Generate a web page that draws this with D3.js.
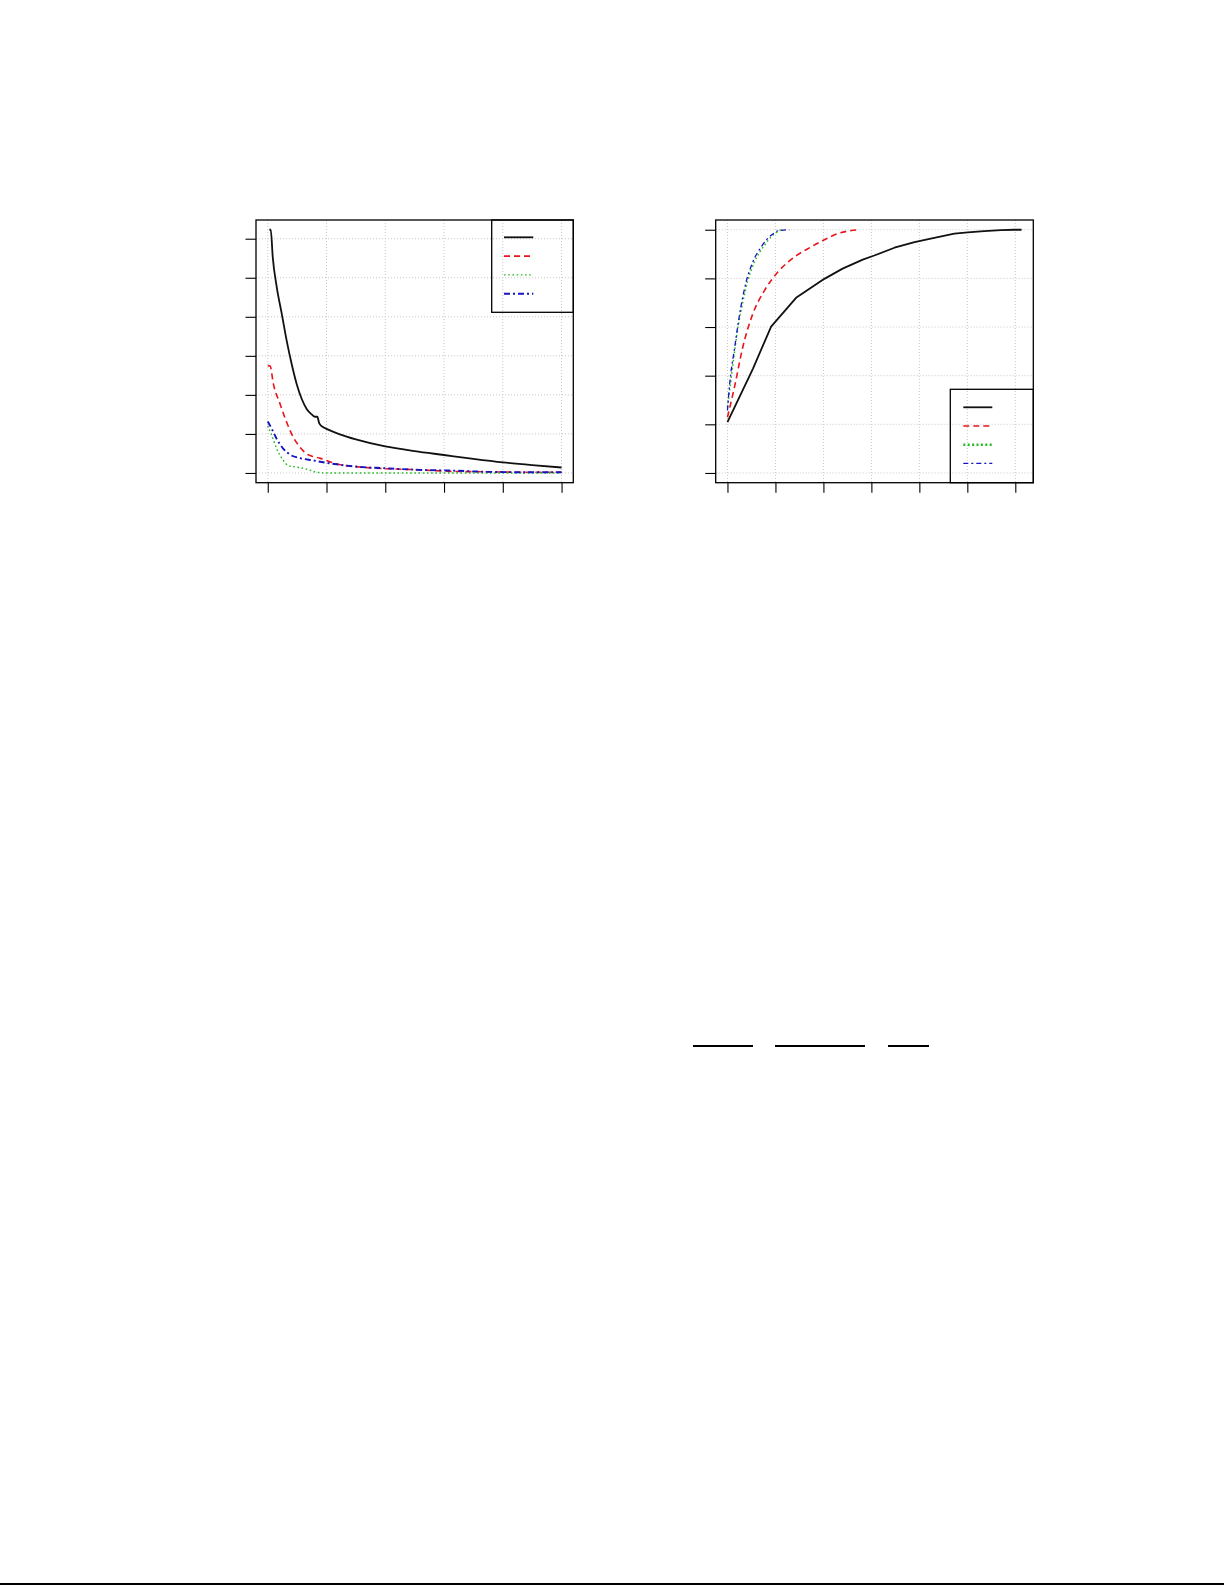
<!DOCTYPE html>
<html lang="en">
<head>
<meta charset="UTF-8">
<title>Two panels</title>
<script src="https://d3js.org/d3.v7.min.js"></script>
<style>
  body { margin: 0; background: #fff; }
  svg { display: block; }
</style>
</head>
<body>
<div id="page"></div>
<script>
// ---- left panel data ----
const leftXTicks = [0, 100, 200, 300, 400, 500];
const leftYTicks = [0, 1, 2, 3, 4, 5, 6];
const leftBlackX = [2.8, 5.1, 8.5, 15.3, 23.8, 32.2, 40.7, 49.2, 57.7, 66.2, 74.7, 80.3, 84.3, 87.7, 94.5, 100, 122.7, 150, 200, 250, 300, 350, 400, 450, 500];
const leftBlackY = [6.23, 6.23, 5.53, 4.76, 4.08, 3.39, 2.79, 2.28, 1.90, 1.64, 1.50, 1.44, 1.44, 1.27, 1.17, 1.13, 0.99, 0.86, 0.68, 0.56, 0.46, 0.36, 0.27, 0.20, 0.14];
const leftRedX = [0, 4, 9.6, 20.9, 32.2, 43.6, 54.9, 66.2, 77.5, 88.8, 100, 117, 145, 174, 202, 258, 315, 372, 428, 500];
const leftRedY = [2.75, 2.74, 2.28, 1.77, 1.30, 0.91, 0.66, 0.49, 0.42, 0.38, 0.32, 0.23, 0.17, 0.13, 0.11, 0.08, 0.04, 0.03, 0.02, 0.02];
const leftGreenX = [0, 6.8, 15.3, 26.6, 35.1, 49.2, 66.2, 83.1, 100, 500];
const leftGreenY = [1.21, 0.96, 0.62, 0.32, 0.19, 0.15, 0.10, 0.02, 0, 0];
const leftBlueX = [0, 6.8, 15.3, 26.6, 37.9, 54.9, 77.5, 100, 123, 145, 202, 258, 315, 372, 428, 500];
const leftBlueY = [1.32, 1.13, 0.87, 0.62, 0.47, 0.38, 0.32, 0.26, 0.21, 0.17, 0.12, 0.08, 0.06, 0.03, 0.02, 0.02];

// ---- right panel data ----
const rightXTicks = [0, 10, 20, 30, 40, 50, 60];
const rightYTicks = [0, 0.2, 0.4, 0.6, 0.8, 1.0];
const rightBlackX = [0, 5.3, 9.1, 14.3, 20.2, 24.0, 28.2, 30.6, 34.8, 39.0, 43.1, 47.3, 50.1, 53.5, 57.0, 59.8, 61.3];
const rightBlackY = [0.209, 0.428, 0.602, 0.720, 0.798, 0.840, 0.877, 0.894, 0.926, 0.949, 0.967, 0.984, 0.989, 0.994, 0.9986, 1.0, 1.0];
const rightRedX = [0, 1.46, 3.19, 5.28, 7.71, 10.5, 13.96, 17.4, 20.2, 23.0, 25.1, 27.5];
const rightRedY = [0.229, 0.353, 0.517, 0.654, 0.750, 0.826, 0.888, 0.929, 0.959, 0.984, 0.9945, 1.0];
const rightGreenX = [0, 1.11, 2.15, 3.19, 4.24, 5.63, 7.71, 9.44, 11.2];
const rightGreenY = [0.270, 0.442, 0.593, 0.702, 0.791, 0.867, 0.936, 0.977, 1.0];
const rightBlueX = [0, 0.42, 1.46, 2.85, 3.89, 5.28, 7.01, 9.10, 10.83, 12.9];
const rightBlueY = [0.257, 0.359, 0.510, 0.689, 0.785, 0.867, 0.929, 0.977, 0.997, 1.0];

const W = 1225, H = 1585;
const svg = d3.select('#page').append('svg').attr('width', W).attr('height', H);

const styles = {
  black: {color: '#111', dash: null, width: 1.8},
  red:   {color: '#e8151b', dash: '6,4', width: 1.6},
  green: {color: '#22bb22', dash: '1.6,2.6', width: 1.4},
  blue:  {color: '#1414c0', dash: '6,3,2,3', width: 1.6}
};

// R style: extend the data range 4% on each side
function pad(ext) {
  const d = (ext[1] - ext[0]) * 0.04;
  return [ext[0] - d, ext[1] + d];
}

function drawPanel(p) {
  const all = p.series;
  const xs = all.flatMap(s => s.x), ys = all.flatMap(s => s.y);
  const x = d3.scaleLinear().domain(pad(d3.extent(xs))).range([p.left, p.right]);
  const y = d3.scaleLinear().domain(pad(p.ylim || d3.extent(ys))).range([p.bottom, p.top]);
  const g = svg.append('g');

  // grid
  g.append('g').selectAll('line').data(p.xTicks).join('line')
    .attr('x1', d => x(d)).attr('x2', d => x(d))
    .attr('y1', p.top).attr('y2', p.bottom)
    .attr('stroke', '#c8c8c8').attr('stroke-dasharray', '1,2');
  g.append('g').selectAll('line').data(p.yTicks).join('line')
    .attr('y1', d => y(d)).attr('y2', d => y(d))
    .attr('x1', p.left).attr('x2', p.right)
    .attr('stroke', '#c8c8c8').attr('stroke-dasharray', '1,2');

  // curves
  all.forEach(s => {
    const st = styles[s.style];
    const line = d3.line().x(d => x(d[0])).y(d => y(d[1]))
      .curve(s.sharp ? d3.curveLinear : d3.curveMonotoneX);
    g.append('path')
      .datum(d3.zip(s.x, s.y))
      .attr('d', line)
      .attr('fill', 'none')
      .attr('stroke', st.color)
      .attr('stroke-width', s.width || st.width)
      .attr('stroke-dasharray', s.dash || st.dash)
      .attr('stroke-linejoin', 'round');
  });

  // axes: ticks only, no labels
  const xa = d3.axisBottom(x).tickValues(p.xTicks).tickSize(10).tickFormat('');
  const ya = d3.axisLeft(y).tickValues(p.yTicks).tickSize(10.5).tickFormat('');
  g.append('g').attr('transform', `translate(0,${p.bottom})`).call(xa)
    .call(a => a.select('.domain').remove());
  g.append('g').attr('transform', `translate(${p.left},0)`).call(ya)
    .call(a => a.select('.domain').remove());
  g.selectAll('.tick line').attr('stroke', '#000').attr('stroke-width', 1.1);

  // box
  g.append('rect')
    .attr('x', p.left).attr('y', p.top)
    .attr('width', p.right - p.left).attr('height', p.bottom - p.top)
    .attr('fill', 'none').attr('stroke', '#000').attr('stroke-width', 1.3);

  // legend (transparent background, keys only)
  const L = p.legend;
  g.append('rect')
    .attr('x', L.x0).attr('y', L.y0)
    .attr('width', L.x1 - L.x0).attr('height', L.y1 - L.y0)
    .attr('fill', 'none').attr('stroke', '#000').attr('stroke-width', 1.3);
  g.append('g').selectAll('line').data(all).join('line')
    .attr('x1', L.kx0).attr('x2', L.kx1)
    .attr('y1', (d, i) => L.ky0 + i * L.step).attr('y2', (d, i) => L.ky0 + i * L.step)
    .attr('stroke', d => styles[d.style].color)
    .attr('stroke-width', d => d.legendWidth || d.width || styles[d.style].width)
    .attr('stroke-dasharray', d => d.legendDash || d.dash || styles[d.style].dash);
}

drawPanel({
  left: 256, right: 573.3, top: 220, bottom: 482.7,
  xTicks: leftXTicks, yTicks: leftYTicks,
  series: [
    {x: leftBlackX, y: leftBlackY, style: 'black'},
    {x: leftRedX, y: leftRedY, style: 'red'},
    {x: leftGreenX, y: leftGreenY, style: 'green'},
    {x: leftBlueX, y: leftBlueY, style: 'blue', width: 1.9}
  ],
  legend: {x0: 491.7, x1: 573.3, y0: 220, y1: 312.3, kx0: 504, kx1: 533.3, ky0: 237.3, step: 18.8}
});

drawPanel({
  left: 715.7, right: 1033.3, top: 220, bottom: 482.7,
  xTicks: rightXTicks, yTicks: rightYTicks, ylim: [0, 1],
  series: [
    {x: rightBlackX, y: rightBlackY, style: 'black', sharp: true},
    {x: rightRedX, y: rightRedY, style: 'red'},
    {x: rightGreenX, y: rightGreenY, style: 'green', width: 1.5, legendWidth: 2.4, legendDash: '2,2.4'},
    {x: rightBlueX, y: rightBlueY, style: 'blue', width: 1.3, dash: '5,3,2,3'}
  ],
  legend: {x0: 950.3, x1: 1033.3, y0: 389.3, y1: 482.7, kx0: 963.3, kx1: 992.3, ky0: 407.3, step: 18.7}
});

// fraction bars of the equation lower on the page
const barSpans = [[693.3, 752.7], [775, 865.3], [887.7, 929]];
svg.append('g').selectAll('line').data(barSpans).join('line')
  .attr('x1', d => d[0]).attr('x2', d => d[1])
  .attr('y1', 1046).attr('y2', 1046)
  .attr('stroke', '#000').attr('stroke-width', 1.4)
  .attr('shape-rendering', 'crispEdges');

// page rule at the bottom
svg.append('line')
  .attr('x1', 0).attr('x2', 1224.3).attr('y1', 1584).attr('y2', 1584)
  .attr('stroke', '#000').attr('stroke-width', 1.6)
  .attr('shape-rendering', 'crispEdges');
</script>
</body>
</html>
